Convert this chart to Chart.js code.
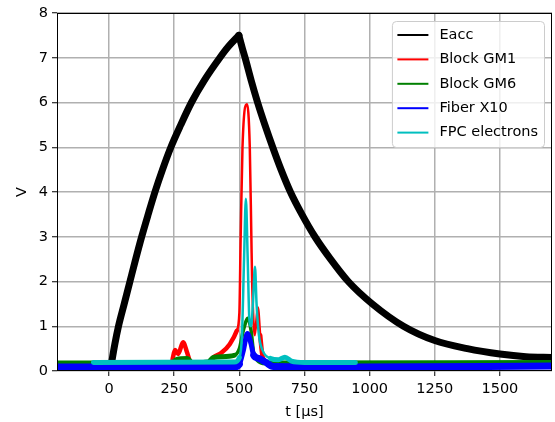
<!DOCTYPE html>
<html>
<head>
<meta charset="utf-8">
<script src="https://cdn.jsdelivr.net/npm/chart.js@4"></script>
<style>
  html, body { margin: 0; padding: 0; background: #fff; }
  #wrap { width: 555px; height: 422px; }
</style>
</head>
<body>
<div id="wrap"><canvas id="chart" width="555" height="422"></canvas></div>
<script>
// values (t in µs, V in volts)
// Eacc: charging ramp and decay, split at the turn-over so the peak stays sharp
const eaccRiseT = [10, 22, 36, 58, 80, 102, 125, 150, 176, 205, 237, 275, 316, 366, 425, 458, 498];
const eaccRiseV = [0.2, 0.6, 1, 1.5, 2, 2.5, 3, 3.5, 4, 4.5, 5, 5.5, 6, 6.5, 7, 7.25, 7.5];
const eaccFallT = [498, 512, 522, 545, 570, 598, 628, 660, 696, 740, 790, 850, 918, 1010, 1130,
  1250, 1375, 1500, 1600, 1700];
const eaccFallV = [7.5, 7.2, 7, 6.5, 6, 5.5, 5, 4.5, 4, 3.5, 3, 2.5, 2, 1.5, 1,
  0.68, 0.5, 0.38, 0.32, 0.3];

const gm1T = [-200, 240, 245, 253, 265, 284, 300, 310, 330, 390, 400, 430, 463, 490, 500,
  505, 512, 529, 540, 546, 549, 559, 571, 580, 590, 620, 1700];
const gm1V = [0.14, 0.15, 0.3, 0.47, 0.38, 0.64, 0.4, 0.22, 0.15, 0.2, 0.3, 0.4, 0.6, 0.9, 1.3,
  3, 5, 5.96, 5, 3, 2, 0.8, 1.42, 0.8, 0.3, 0.15, 0.14];

const gm6T = [-200, 240, 260, 300, 320, 380, 400, 480, 500, 515, 533, 545, 555, 570, 600, 1700];
const gm6V = [0.18, 0.18, 0.26, 0.28, 0.18, 0.2, 0.3, 0.35, 0.5, 0.9, 1.18, 0.9, 0.4, 0.25, 0.18, 0.19];

const x10T = [-200, 480, 500, 515, 531, 545, 555, 575, 600, 630, 950, 1700];
const x10V = [0.09, 0.09, 0.15, 0.45, 0.84, 0.6, 0.35, 0.28, 0.2, 0.1, 0.09, 0.11];

const fpcT = [-60, 480, 500, 510, 518, 525, 532, 538, 545, 552, 560, 566, 575, 590,
  620, 650, 675, 700, 750, 945];
const fpcV = [0.19, 0.2, 0.3, 0.8, 2.5, 3.85, 2.5, 1.2, 1.0, 1.5, 2.33, 1.5, 0.8, 0.45,
  0.28, 0.25, 0.31, 0.22, 0.19, 0.19];

const xTicks = [0, 250, 500, 750, 1000, 1250, 1500];
const FONT = 'DejaVu Sans';

function pts(ts, vs) {
  return ts.map((t, i) => ({ x: t, y: vs[i] }));
}

// thicker line where the trace sits on its noisy baseline
function bandWidth(band, peak, below) {
  return ctx => Math.max(ctx.p0.parsed.y, ctx.p1.parsed.y) < below ? band : peak;
}

function series(label, color, ts, vs, order, band, peak, below = 0.4) {
  const ds = {
    label,
    data: pts(ts, vs),
    borderColor: color,
    backgroundColor: color,
    borderWidth: peak,
    pointRadius: 0,
    cubicInterpolationMode: 'monotone',
    borderJoinStyle: 'round',
    borderCapStyle: 'round',
    fill: false,
    order,
  };
  if (band !== peak) ds.segment = { borderWidth: bandWidth(band, peak, below) };
  return ds;
}

const legendBox = {
  id: 'legendBox',
  afterDraw(chart) {
    const { ctx, chartArea } = chart;
    // axes frame on top of the data
    ctx.save();
    ctx.strokeStyle = '#000';
    ctx.lineWidth = 1;
    ctx.strokeRect(chartArea.left + 0.5, chartArea.top + 0.5,
      chartArea.right - chartArea.left - 1, chartArea.bottom - chartArea.top - 1);

    const items = chart.data.datasets.filter(d => !d.noLegend);
    ctx.font = '14.5px "' + FONT + '"';
    const textW = Math.max(...items.map(d => ctx.measureText(d.label).width));
    const w = 5.5 + 31 + 11 + textW + 6;
    const rowH = 24.4;
    const h = items.length * rowH + 4;
    const x = chartArea.right - 8 - w;
    const y = chartArea.top + 8;

    ctx.beginPath();
    ctx.roundRect(x + 0.5, y + 0.5, w, h, 4);
    ctx.fillStyle = 'rgba(255,255,255,0.8)';
    ctx.fill();
    ctx.strokeStyle = '#cccccc';
    ctx.stroke();

    items.forEach((d, i) => {
      const cy = y + 14 + i * rowH;
      ctx.beginPath();
      ctx.moveTo(x + 5.5, cy);
      ctx.lineTo(x + 36.5, cy);
      ctx.strokeStyle = d.borderColor;
      ctx.lineWidth = 2;
      ctx.lineCap = 'butt';
      ctx.stroke();
      ctx.fillStyle = '#000';
      ctx.textBaseline = 'middle';
      ctx.textAlign = 'left';
      ctx.fillText(d.label, x + 47.5, cy);
    });
    ctx.restore();
  }
};

const eaccFall = series('Eacc', '#000000', eaccFallT, eaccFallV, 5, 7, 7);
eaccFall.noLegend = true;

new Chart(document.getElementById('chart'), {
  type: 'line',
  data: {
    datasets: [
      series('Eacc', '#000000', eaccRiseT, eaccRiseV, 5, 7, 7),
      eaccFall,
      series('Block GM1', '#ff0000', gm1T, gm1V, 4, 4.5, 2.5, 1.0),
      series('Block GM6', '#008000', gm6T, gm6V, 3, 5, 3.5),
      series('Fiber X10', '#0000ff', x10T, x10V, 2, 7, 5),
      series('FPC electrons', '#00bfbf', fpcT, fpcV, 1, 5, 2.5),
    ]
  },
  options: {
    responsive: false,
    animation: false,
    layout: { padding: { left: 0, right: 3, top: 13, bottom: 0 } },
    plugins: { legend: { display: false }, tooltip: { enabled: false } },
    scales: {
      x: {
        type: 'linear',
        min: -200,
        max: 1700,
        afterBuildTicks: s => { s.ticks = xTicks.map(v => ({ value: v })); },
        afterFit: s => { s.height = 51; },
        ticks: { color: '#000', font: { family: FONT, size: 14.5 }, padding: 5, maxRotation: 0,
          callback: v => String(v) },
        grid: { color: '#b0b0b0', lineWidth: 1.5, tickColor: '#000', tickLength: 5, tickWidth: 1 },
        border: { display: false },
        title: { display: true, text: 't [µs]', color: '#000',
          font: { family: FONT, size: 14.5 }, padding: { top: 0, bottom: 1 } },
      },
      y: {
        min: 0,
        max: 8,
        afterFit: s => { s.width = 57; },
        ticks: { stepSize: 1, color: '#000', font: { family: FONT, size: 14.5 }, padding: 4,
          callback: v => String(v) },
        grid: { color: '#b0b0b0', lineWidth: 1.5, tickColor: '#000', tickLength: 5, tickWidth: 1 },
        border: { display: false },
        title: { display: true, text: 'V', color: '#000',
          font: { family: FONT, size: 14.5 }, padding: { top: 14, bottom: 0 } },
      }
    }
  },
  plugins: [legendBox]
});
</script>
</body>
</html>
